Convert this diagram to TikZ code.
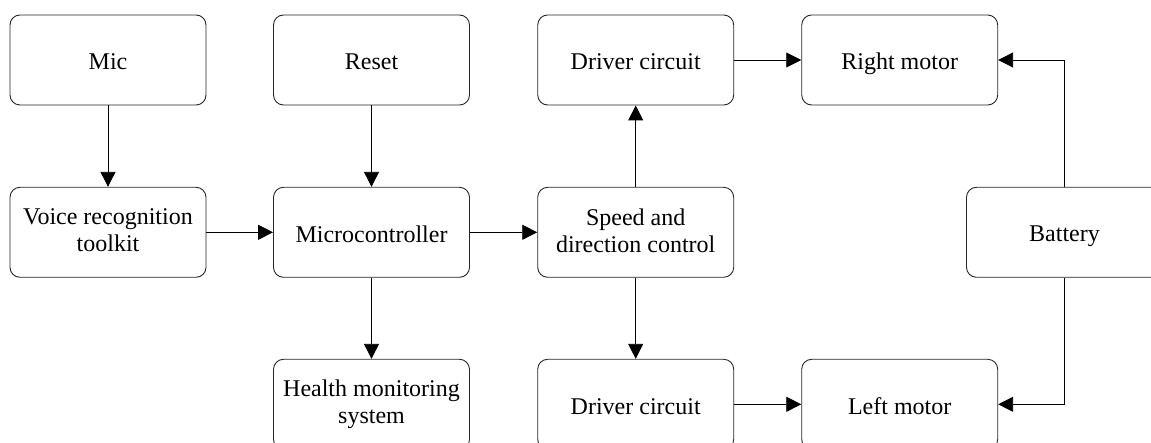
\documentclass[tikz,border=0pt]{standalone}
\usepackage{fontspec}
\setmainfont{Liberation Serif}
\usetikzlibrary{arrows.meta}
\newcommand{\blkstrut}{\rule[-4pt]{0pt}{28pt}}
\begin{document}
\begin{tikzpicture}[x=1pt,y=-1pt,
  blk/.style={draw=black!85, line width=0.9pt, rectangle, rounded corners=10pt,
    minimum width=196pt, minimum height=90pt, align=center, inner sep=2pt,
    font=\fontsize{24}{27}\selectfont,
    execute at begin node=\blkstrut, execute at end node=\blkstrut},
  conn/.style={draw=black, line width=0.9pt, -{Triangle[length=15pt,width=15pt]}}]
\useasboundingbox (0,0) rectangle (1151,443);
\node[blk] (mic) at (108,60) {Mic};
\node[blk] (reset) at (371.5,60) {Reset};
\node[blk] (drvt) at (635.7,60) {Driver circuit};
\node[blk] (rm) at (899.7,60) {Right motor};
\node[blk] (voice) at (108,232.3) {Voice recognition\\toolkit};
\node[blk] (micro) at (371.5,232.3) {Microcontroller};
\node[blk] (speed) at (635.7,232.3) {Speed and\\direction control};
\node[blk] (bat) at (1064.5,232.3) {Battery};
\node[blk] (health) at (371.5,404.3) {Health monitoring\\system};
\node[blk] (drvb) at (635.7,404.3) {Driver circuit};
\node[blk] (lm) at (899.7,404.3) {Left motor};
\draw[conn] (mic) -- (voice);
\draw[conn] (reset) -- (micro);
\draw[conn] (voice) -- (micro);
\draw[conn] (micro) -- (speed);
\draw[conn] (micro) -- (health);
\draw[conn] (speed) -- (drvt);
\draw[conn] (speed) -- (drvb);
\draw[conn] (drvt) -- (rm);
\draw[conn] (drvb) -- (lm);
\draw[conn] (bat.north) |- (rm.east);
\draw[conn] (bat.south) |- (lm.east);
\end{tikzpicture}
\end{document}
